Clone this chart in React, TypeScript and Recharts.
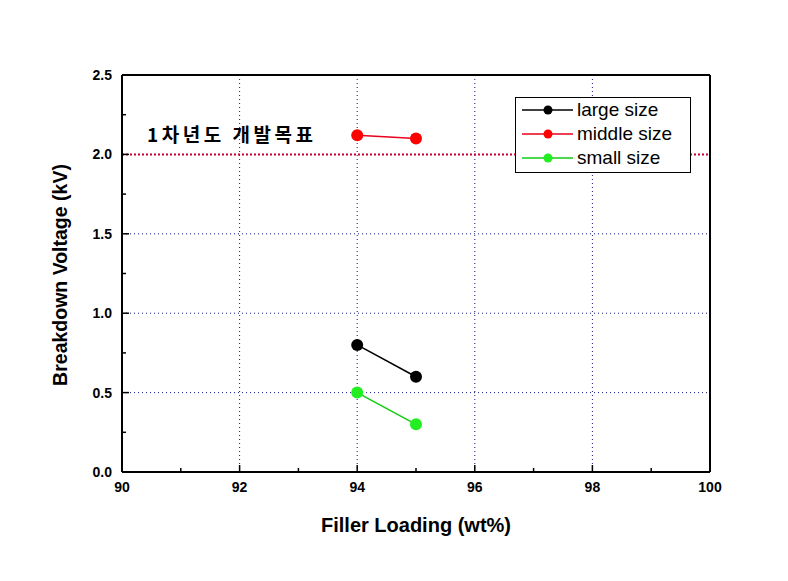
import React from 'react';
import {
  ComposedChart,
  Line,
  XAxis,
  YAxis,
  CartesianGrid,
  ReferenceLine,
} from 'recharts';

const largeSize = [
  { x: 94, y: 0.8 },
  { x: 95, y: 0.6 },
];
const middleSize = [
  { x: 94, y: 2.12 },
  { x: 95, y: 2.1 },
];
const smallSize = [
  { x: 94, y: 0.5 },
  { x: 95, y: 0.3 },
];

const xTicks = [90, 91, 92, 93, 94, 95, 96, 97, 98, 99, 100];
const yTicks = [0, 0.25, 0.5, 0.75, 1, 1.25, 1.5, 1.75, 2, 2.25, 2.5];
const xGrid = [92, 94, 96, 98];
const yGrid = [0.5, 1, 1.5, 2];
const targetValue = 2.0;
const targetLabel = '1차년도 개발목표';

const series = [
  { name: 'large size', data: largeSize, line: '#000000', dot: '#000000' },
  { name: 'middle size', data: middleSize, line: '#e8001c', dot: '#ff0000' },
  { name: 'small size', data: smallSize, line: '#11cc11', dot: '#22ee22' },
];

const FONT = '"Liberation Sans", Arial, sans-serif';

const BottomTick = (props: any) => {
  const { x, y, payload } = props;
  const major = payload.value % 2 === 0;
  return (
    <g>
      <line x1={x} x2={x} y1={y} y2={y - (major ? 7 : 4)} stroke="#000" strokeWidth={1.5} />
      {major && (
        <text x={x} y={y + 20} textAnchor="middle" fontFamily={FONT} fontWeight="bold" fontSize={14} fill="#000">
          {payload.value}
        </text>
      )}
    </g>
  );
};

const TopTick = (props: any) => {
  const { x, y, payload } = props;
  const major = payload.value % 2 === 0;
  return <line x1={x} x2={x} y1={y} y2={y + (major ? 7 : 4)} stroke="#000" strokeWidth={1.5} />;
};

const LeftTick = (props: any) => {
  const { x, y, payload } = props;
  const major = Math.abs((payload.value * 2) % 1) < 1e-6;
  return (
    <g>
      <line x1={x} x2={x + (major ? 7 : 4)} y1={y} y2={y} stroke="#000" strokeWidth={1.5} />
      {major && (
        <text x={x - 10} y={y + 5} textAnchor="end" fontFamily={FONT} fontWeight="bold" fontSize={14} fill="#000">
          {payload.value.toFixed(1)}
        </text>
      )}
    </g>
  );
};

const RightTick = (props: any) => {
  const { x, y, payload } = props;
  const major = Math.abs((payload.value * 2) % 1) < 1e-6;
  return <line x1={x} x2={x - (major ? 7 : 4)} y1={y} y2={y} stroke="#000" strokeWidth={1.5} />;
};

const LegendBox = () => (
  <div
    style={{
      position: 'absolute',
      left: 515,
      top: 97,
      border: '1px solid #000',
      background: '#fff',
      width: 176,
      height: 76,
      boxSizing: 'border-box',
      padding: '0 0 0 6px',
      fontFamily: FONT,
      fontSize: 19,
    }}
  >
    {series.map((s) => (
      <div key={s.name} style={{ display: 'flex', alignItems: 'center', height: 24 }}>
        <svg width={51} height={12} style={{ marginRight: 4 }}>
          <line x1={0} x2={51} y1={6} y2={6} stroke={s.line} strokeWidth={1.5} />
          <circle cx={26} cy={6} r={4.5} fill={s.dot} />
        </svg>
        <span style={{ color: '#000', lineHeight: '24px' }}>{s.name}</span>
      </div>
    ))}
  </div>
);

const App = () => {
  return (
    <div style={{ position: 'absolute', left: 0, top: 0, width: 788, height: 581, background: '#fff' }}>
      <ComposedChart width={788} height={581} margin={{ top: 74, right: 77, bottom: 108, left: 121 }}>
        <CartesianGrid
          stroke="#1a1a8c"
          strokeDasharray="1 3"
          verticalValues={xGrid}
          horizontalValues={yGrid}
        />
        <XAxis
          type="number"
          dataKey="x"
          domain={[90, 100]}
          ticks={xTicks}
          interval={0}
          allowDataOverflow
          axisLine={{ stroke: '#000', strokeWidth: 2 }}
          tickLine={false}
          tickSize={0}
          tickMargin={0}
          tick={<BottomTick />}
          height={1}
        />
        <XAxis
          xAxisId="top"
          orientation="top"
          type="number"
          domain={[90, 100]}
          ticks={xTicks}
          interval={0}
          axisLine={{ stroke: '#000', strokeWidth: 2 }}
          tickLine={false}
          tickSize={0}
          tickMargin={0}
          tick={<TopTick />}
          height={1}
        />
        <YAxis
          type="number"
          domain={[0, 2.5]}
          ticks={yTicks}
          interval={0}
          allowDataOverflow
          axisLine={{ stroke: '#000', strokeWidth: 2 }}
          tickLine={false}
          tickSize={0}
          tickMargin={0}
          tick={<LeftTick />}
          width={1}
        />
        <YAxis
          yAxisId="right"
          orientation="right"
          type="number"
          domain={[0, 2.5]}
          ticks={yTicks}
          interval={0}
          axisLine={{ stroke: '#000', strokeWidth: 2 }}
          tickLine={false}
          tickSize={0}
          tickMargin={0}
          tick={<RightTick />}
          width={1}
        />
        <ReferenceLine y={targetValue} stroke="#cc0033" strokeWidth={2} strokeDasharray="2 2" />
        {series.map((s) => (
          <Line
            key={s.name}
            name={s.name}
            data={s.data}
            dataKey="y"
            type="linear"
            stroke={s.line}
            strokeWidth={1.5}
            dot={{ r: 6, fill: s.dot, stroke: s.dot, strokeWidth: 0 }}
            activeDot={false}
            isAnimationActive={false}
          />
        ))}
      </ComposedChart>
      <LegendBox />
      <div
        style={{
          position: 'absolute',
          left: 147,
          top: 120,
          fontFamily: '"Noto Sans CJK KR", sans-serif',
          fontWeight: 'bold',
          fontSize: 19,
          letterSpacing: 3.5,
          lineHeight: '28px',
          color: '#000',
          whiteSpace: 'nowrap',
        }}
      >
        {targetLabel}
      </div>
      <div
        style={{
          position: 'absolute',
          left: 0,
          width: 832,
          top: 514,
          textAlign: 'center',
          fontFamily: FONT,
          fontWeight: 'bold',
          fontSize: 20,
          color: '#000',
        }}
      >
        Filler Loading (wt%)
      </div>
      <div
        style={{
          position: 'absolute',
          left: 60,
          top: 275,
          transform: 'translate(-50%, -50%) rotate(-90deg)',
          fontFamily: FONT,
          fontWeight: 'bold',
          fontSize: 19.5,
          color: '#000',
          whiteSpace: 'nowrap',
        }}
      >
        Breakdown Voltage (kV)
      </div>
    </div>
  );
};

export default App;
